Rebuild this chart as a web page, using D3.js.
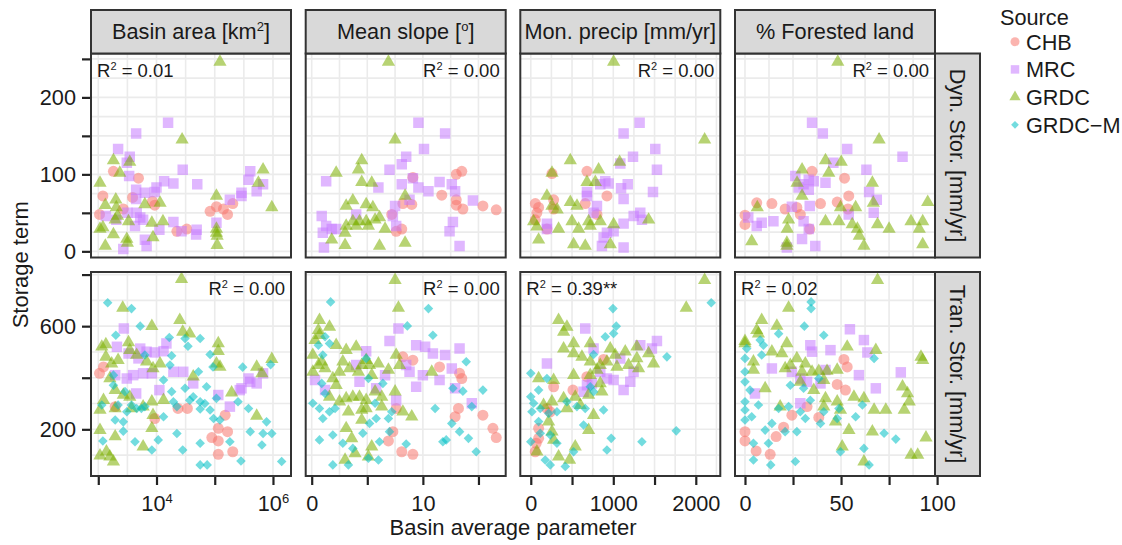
<!DOCTYPE html>
<html><head><meta charset="utf-8">
<script src="https://cdn.jsdelivr.net/npm/d3@7"></script>
<style>body{margin:0;background:#fff}svg{display:block;font-family:"Liberation Sans",Arial,Helvetica,sans-serif}</style>
</head><body><svg id="c" width="1122" height="545"></svg>
<script>
// ---------------- data ----------------
const sources = ["CHB", "MRC", "GRDC", "GRDC\u2212M"];
const sourceColors = ["#F8766D", "#C77CFF", "#7CAE00", "#00BFC4"];
const parameters = ["Basin area [km2]", "Mean slope [o]", "Mon. precip [mm/yr]", "% Forested land"];
const storageTerms = ["Dyn. Stor. [mm/yr]", "Tran. Stor. [mm/yr]"];
const r2Values = [["0.01", "0.00", "0.00", "0.00"], ["0.00", "0.00", "0.39**", "0.02"]];

// x tick values per parameter and which get labels
const xTickValues = [[1e3, 1e4, 1e5, 1e6], [0, 5, 10, 15], [0, 500, 1000, 1500, 2000], [0, 25, 50, 75, 100]];
const xTickLabels = [["", "10|4", "", "10|6"], ["0", "", "10", ""], ["0", "", "1000", "", "2000"], ["0", "", "50", "", "100"]];
const yTickValues = [[0, 50, 100, 150, 200, 250], [200, 400, 600, 800]];
const yTickLabels = [["0", "", "100", "", "200", ""], ["200", "", "600", ""]];

// ---- Dynamic storage (top row) : [parameter value, storage mm/yr]
const dynAreaCHB = [[1820,104],[4900,95],[1200,72],[3890,70],[8510,65],[9330,60],[2690,55],[1050,48],[22400,26],[33100,29],[83200,52],[107000,58],[141000,55],[204000,62],[166000,48]];
const dynAreaMRC = [[15800,167],[4470,153],[2190,133],[3470,123],[3090,115],[28200,106],[3390,98],[13500,91],[19500,88],[50100,87],[10000,83],[4470,80],[6310,76],[9330,77],[4470,68],[407000,104],[380000,93],[676000,87],[525000,78],[288000,76],[288000,72],[182000,67],[4570,50],[5250,44],[5890,41],[3160,50],[1350,46],[2040,41],[4270,33],[11200,28],[19500,38],[26900,26],[49000,28],[47900,22],[107000,37],[6310,15],[6760,7],[2690,3]];
const dynAreaGRDC = [[123000,246],[27500,145],[1820,118],[3470,116],[2340,102],[1070,89],[676000,106],[562000,89],[955000,57],[107000,72],[2000,67],[1320,60],[2040,57],[6310,61],[11500,63],[1950,41],[3310,39],[8320,37],[12900,39],[1070,29],[1200,31],[1820,22],[3090,16],[3160,11],[8710,18],[1320,7],[107000,29],[107000,24],[110000,20],[110000,8],[2140,46]];

const dynSlopeCHB = [[13.5,104],[13.0,100],[9.1,96],[11.7,73],[13.0,67],[13.0,60],[13.6,55],[15.4,59],[16.6,54],[8.2,62],[9.0,61],[7.2,48],[8.1,29],[7.6,26]];
const dynSlopeMRC = [[9.6,167],[12.0,153],[10.1,133],[8.5,123],[8.1,113],[7.0,106],[9.1,95],[8.1,87],[11.5,90],[12.6,87],[12.9,78],[10.5,78],[9.6,83],[14.5,66],[6.0,83],[1.3,91],[7.5,59],[8.8,67],[0.9,46],[1.3,33],[1.8,29],[1.0,24],[2.2,29],[7.6,33],[7.3,46],[12.7,38],[12.4,26],[13.3,7],[1.1,5],[4.0,48]];
const dynSlopeGRDC = [[6.9,246],[7.5,145],[4.5,118],[4.2,106],[2.2,102],[4.5,90],[5.4,89],[8.4,72],[3.7,66],[3.1,59],[4.9,61],[5.5,57],[3.7,39],[4.3,39],[4.9,39],[5.7,41],[6.1,44],[3.1,33],[3.0,24],[6.6,29],[1.8,15],[3.0,8],[6.1,7],[8.4,11],[4.0,33],[5.1,33]];

const dynPrecipCHB = [[257,101],[681,104],[55,62],[95,57],[74,50],[277,67],[923,72],[802,48],[660,62],[277,55],[196,29],[55,41]];
const dynPrecipMRC = [[1319,167],[1125,153],[1509,133],[1239,123],[1085,114],[1529,106],[1175,87],[1094,82],[903,91],[842,87],[943,88],[681,77],[681,72],[1481,77],[1125,68],[802,59],[761,50],[1327,50],[1247,46],[1347,41],[1125,36],[1004,26],[883,18],[862,7],[1125,5],[196,29],[196,36],[923,24]];
const dynPrecipGRDC = [[1004,246],[2107,145],[479,118],[1077,116],[822,106],[257,102],[681,90],[782,90],[196,72],[257,59],[479,64],[560,59],[320,54],[34,39],[499,39],[701,39],[721,33],[842,39],[1004,35],[1428,41],[95,15],[519,9],[660,7],[964,9],[580,29],[337,29],[74,32]];

const dynForestCHB = [[34.9,104],[51.8,95],[6.1,63],[14,62],[20.9,55],[28.8,48],[39.3,62],[48,64],[54,72],[53.6,55],[0,47],[0,35],[33.7,29],[27,57]];
const dynForestMRC = [[34.9,167],[40.5,153],[53.2,133],[82,123],[46,115],[63.2,106],[26.2,98],[33.2,93],[35.8,91],[30.5,87],[41.9,89],[33.2,80],[64.6,77],[68.6,67],[28,83],[24.4,58],[33.7,59],[67,50],[54,48],[14.8,39],[6.1,33],[8.7,37],[1.7,44],[33.2,29],[30.5,39],[29.7,16],[36.6,7],[21.8,5]];
const dynForestGRDC = [[48.3,246],[69.8,145],[41.9,118],[50.1,116],[29.7,106],[43.6,102],[66.3,89],[27.1,89],[29.7,72],[95.1,64],[66.8,63],[6.4,57],[49.7,57],[57.6,57],[22.7,41],[41.9,39],[48.9,39],[86.4,39],[92.5,39],[55.8,35],[69,35],[75,29],[90.7,29],[22,29],[58.5,29],[59.5,20],[3.5,13],[21.8,7],[21.8,11],[61.9,7],[92.5,9]];

// ---- Transient storage (bottom row)
const tranAreaCHB = [[1050,417],[1230,442],[9330,242],[33900,281],[23400,281],[115000,204],[89100,168],[115000,155],[166000,191],[115000,103],[204000,113],[151000,255],[1950,288]];
const tranAreaMRC = [[2750,591],[2090,520],[3310,494],[5250,513],[6760,501],[9330,498],[13200,503],[14800,533],[4900,475],[5890,417],[3980,410],[8320,417],[19500,423],[28800,423],[42700,378],[11200,352],[4470,339],[3090,397],[115000,333],[182000,288],[288000,359],[407000,384],[380000,397],[525000,378],[676000,417],[269000,352],[1950,410]];
const tranAreaGRDC = [[26900,782],[2630,671],[8320,600],[25100,623],[28200,578],[37200,571],[115000,533],[115000,503],[107000,455],[123000,442],[955000,472],[525000,442],[646000,417],[195000,342],[525000,252],[1150,520],[1350,481],[1700,455],[2190,468],[3310,537],[3470,507],[4570,488],[6760,462],[8710,436],[11500,455],[1580,397],[1950,352],[1230,313],[1070,275],[1950,281],[2690,333],[3470,326],[3720,281],[5890,288],[8320,307],[13200,313],[8710,255],[8320,204],[1070,197],[1950,172],[5890,133],[1070,98],[1380,113],[1820,75],[1580,94],[1350,529],[42700,404]];
const tranAreaGRDCM = [[1450,691],[3720,668],[2000,565],[5250,600],[16600,556],[30900,552],[56200,552],[34700,522],[6310,488],[18200,485],[17000,449],[83200,490],[93300,442],[302000,441],[912000,451],[52500,423],[13200,391],[18200,346],[30900,359],[42700,326],[72400,365],[56200,307],[67600,300],[37200,313],[1820,410],[2880,346],[2190,294],[3090,268],[3720,294],[4570,281],[5500,281],[6310,288],[13200,249],[19500,307],[22400,288],[56200,279],[83200,275],[107000,320],[123000,236],[95500,242],[251000,307],[380000,281],[776000,229],[407000,191],[676000,184],[955000,184],[646000,139],[1410000,75],[282000,77],[56200,62],[74100,62],[28200,120],[22400,184],[56200,146],[182000,152],[8320,120],[10700,159],[4270,152],[2690,193],[1950,236],[2690,229],[1200,155],[1150,294],[1820,371]];

const tranSlopeCHB = [[9.1,468],[11.5,442],[13.3,417],[13.5,397],[8.2,481],[13.2,281],[12.9,249],[15.4,255],[16.3,204],[16.6,168],[7.6,281],[7.3,191],[6.9,155],[8.1,113],[9.1,103]];
const tranSlopeMRC = [[7.8,591],[7.0,542],[9.4,526],[10.2,520],[10.9,494],[12.0,488],[13.3,513],[4.9,503],[4.0,449],[8.5,449],[8.8,423],[10.0,410],[11.5,391],[9.4,365],[12.6,436],[12.9,359],[14.4,301],[0.3,391],[1.2,352],[4.3,384],[5.8,359],[6.6,410],[7.6,313]];
const tranSlopeGRDC = [[7.5,778],[7.8,671],[0.7,623],[0.6,584],[1.6,597],[0.3,546],[0.7,565],[2.2,526],[3.1,507],[4.0,520],[4.9,468],[6.0,455],[6.9,430],[7.6,488],[7.9,449],[10.8,423],[0.1,488],[0.9,462],[1.2,436],[1.9,397],[2.5,423],[2.8,462],[3.4,436],[4.2,423],[4.5,449],[5.2,449],[5.4,410],[5.7,346],[6.3,326],[4.9,313],[4.3,326],[3.7,326],[3.1,320],[2.5,307],[2.2,371],[1.6,326],[3.3,268],[4.5,275],[4.9,281],[6.3,288],[7.5,346],[8.2,268],[9.0,249],[4.5,236],[3.1,204],[3.6,165],[5.4,133],[5.1,94],[3.0,81],[3.9,107],[0.6,449],[0.1,423]];
const tranSlopeGRDCM = [[1.7,694],[10.5,668],[8.6,601],[10.9,565],[1.2,559],[1.6,533],[0.6,526],[1.0,488],[13.9,462],[4.9,475],[5.1,397],[0.9,378],[1.2,339],[0.1,301],[0.7,281],[1.0,242],[1.6,268],[2.1,281],[5.7,301],[6.4,378],[5.8,242],[6.9,242],[7.2,268],[5.2,223],[7.0,191],[4.6,185],[6.1,152],[2.8,146],[1.9,178],[0.7,159],[3.7,126],[6.0,81],[5.1,88],[3.3,62],[1.9,62],[8.5,143],[11.1,281],[12.7,359],[13.6,348],[14.4,288],[15.4,352],[14.8,113],[12.1,159],[11.8,152],[12.6,223],[13.3,191],[14.1,165]];

const tranPrecipCHB = [[882,471],[680,404],[277,365],[511,352],[196,281],[236,268],[95,204],[95,165],[54,113],[66,146]];
const tranPrecipMRC = [[660,591],[196,455],[761,513],[1084,475],[1327,526],[1529,542],[1468,513],[842,423],[923,397],[1125,352],[1004,391],[1246,423],[1206,384],[681,371],[640,346],[741,378]];
const tranPrecipGRDC = [[2107,778],[1884,671],[337,623],[438,597],[398,578],[519,533],[721,533],[398,513],[519,494],[620,481],[721,462],[842,449],[963,513],[1024,488],[1145,501],[1286,520],[1286,475],[1428,494],[1488,455],[1307,436],[1185,449],[1044,442],[923,462],[95,397],[277,391],[519,410],[721,410],[802,430],[862,346],[701,333],[539,326],[398,320],[257,307],[155,294],[438,281],[600,294],[761,255],[701,197],[257,191],[277,159],[74,113],[337,94],[470,81],[539,133],[216,230],[842,378]];
const tranPrecipGRDCM = [[2187,691],[996,668],[1036,600],[903,559],[1004,572],[761,490],[1650,481],[0,417],[196,397],[95,352],[34,301],[14,268],[115,281],[216,262],[317,268],[438,307],[559,288],[660,281],[721,365],[761,346],[882,275],[640,217],[0,152],[115,185],[236,178],[317,146],[175,81],[236,62],[418,56],[519,113],[923,120],[975,165],[1347,152],[1763,194],[95,230],[0,326]];

const tranForestCHB = [[51.5,471],[53.2,442],[48.0,374],[52.3,352],[32.3,288],[24.4,255],[38.4,246],[20.1,208],[16.2,172],[0,191],[0,155],[5.8,116],[13.1,103]];
const tranForestMRC = [[54.6,588],[61.9,546],[34.0,526],[34.9,501],[44.5,507],[63.7,498],[14.0,436],[24.4,423],[41.9,430],[28.8,397],[32.3,384],[39.3,378],[59.3,410],[68.1,359],[81.1,421],[5.2,339],[28.8,301]];
const tranForestGRDC = [[69.0,778],[22.7,671],[8.7,623],[16.6,601],[6.1,584],[7.0,571],[21.8,533],[0,542],[14.0,501],[19.2,494],[27.0,475],[31.4,455],[23.6,449],[20.9,436],[29.7,423],[34.9,423],[38.4,426],[42.7,426],[48.0,430],[53.2,520],[68.1,507],[91.6,481],[92.5,468],[82.0,365],[84.6,339],[85.5,307],[82.9,275],[73.3,275],[67.2,275],[61.9,320],[56.7,326],[41.9,320],[41.0,288],[48.0,307],[49.7,275],[47.1,230],[54.1,197],[66.3,191],[50.6,133],[61.9,75],[86.4,101],[89.9,101],[94.2,168],[4.4,430],[10.5,359],[18.3,288],[28.8,384],[35.8,352],[41.0,391],[0,533],[4.4,462]];
const tranForestGRDCM = [[34.4,694],[34.4,668],[30.9,600],[41.0,565],[17.5,571],[7.9,546],[9.6,526],[8.7,488],[0.9,513],[0,475],[0,423],[0,384],[2.6,352],[0,307],[0,275],[7.0,294],[0,236],[3.5,249],[23.6,371],[30.5,359],[38.4,397],[17.5,281],[22.7,288],[28.8,268],[34.0,313],[41.0,268],[48.9,281],[61.1,294],[67.2,475],[31.4,242],[39.3,223],[48.0,242],[57.6,249],[14.0,223],[10.5,197],[20.9,191],[27.0,191],[4.4,146],[12.2,146],[49.7,113],[61.9,126],[64.6,62],[72.4,185],[78.5,162],[4.4,81],[13.4,62],[26.2,75]];

// table built from the arrays: [row][col][source]
const panelSeries = [
  [[dynAreaCHB, dynAreaMRC, dynAreaGRDC, []], [dynSlopeCHB, dynSlopeMRC, dynSlopeGRDC, []],
   [dynPrecipCHB, dynPrecipMRC, dynPrecipGRDC, []], [dynForestCHB, dynForestMRC, dynForestGRDC, []]],
  [[tranAreaCHB, tranAreaMRC, tranAreaGRDC, tranAreaGRDCM], [tranSlopeCHB, tranSlopeMRC, tranSlopeGRDC, tranSlopeGRDCM],
   [tranPrecipCHB, tranPrecipMRC, tranPrecipGRDC, tranPrecipGRDCM], [tranForestCHB, tranForestMRC, tranForestGRDC, tranForestGRDCM]]
];

// ---------------- layout ----------------
const svg = d3.select("#c");
const colLeft = [91, 305.7, 520.3, 735], colW = 200;
const rowTop = [53.5, 272], rowH = 204;
const FS = 21.7;
const xDomains = [[750, 2.04e6], [-0.54, 17.45], [-127, 2297], [-5.2, 98.9]];
const xScales = xDomains.map((d, i) => (i === 0 ? d3.scaleLog() : d3.scaleLinear()).domain(d).range([colLeft[i], colLeft[i] + colW]));
const yScales = [
  d3.scaleLinear().domain([-8, 257]).range([rowTop[0] + rowH, rowTop[0]]),
  d3.scaleLinear().domain([19, 810]).range([rowTop[1] + rowH, rowTop[1]])
];
const xGrids = [
  d3.range(3, 6.01, 0.5).map(e => Math.pow(10, e)),
  d3.range(0, 17.5, 2.5), d3.range(0, 2300, 250), d3.range(0, 98, 12.5)
];
const yGrids = [d3.range(0, 251, 25), d3.range(100, 801, 100)];

const shapeFns = [
  d3.symbol(d3.symbolCircle, 95),
  d3.symbol(d3.symbolSquare, 110),
  d3.symbol(d3.symbolTriangle, 76),
  d3.symbol(d3.symbolSquare, 46)
];
const shapeRot = [0, 0, 0, 45];
const ALPHA = 0.55;
const textCol = "#1a1a1a";

const defs = svg.append("defs");

for (let r = 0; r < 2; r++) {
  for (let c = 0; c < 4; c++) {
    const x = xScales[c], y = yScales[r];
    const g = svg.append("g");
    const id = `clip${r}${c}`;
    defs.append("clipPath").attr("id", id).append("rect")
      .attr("x", colLeft[c]).attr("y", rowTop[r]).attr("width", colW).attr("height", rowH);
    g.append("rect").attr("x", colLeft[c]).attr("y", rowTop[r]).attr("width", colW).attr("height", rowH).attr("fill", "#fff");
    const grid = g.append("g").attr("stroke", "#ebebeb").attr("stroke-width", 1.6);
    xGrids[c].forEach(v => grid.append("line").attr("x1", x(v)).attr("x2", x(v)).attr("y1", rowTop[r]).attr("y2", rowTop[r] + rowH));
    yGrids[r].forEach(v => grid.append("line").attr("y1", y(v)).attr("y2", y(v)).attr("x1", colLeft[c]).attr("x2", colLeft[c] + colW));
    const pts = g.append("g").attr("clip-path", `url(#${id})`);
    panelSeries[r][c].forEach((series, s) => {
      pts.selectAll(null).data(series).join("path")
        .attr("d", shapeFns[s])
        .attr("transform", d => `translate(${x(d[0])},${y(d[1])}) rotate(${shapeRot[s]})`)
        .attr("fill", sourceColors[s]).attr("fill-opacity", ALPHA);
    });
    g.append("rect").attr("x", colLeft[c]).attr("y", rowTop[r]).attr("width", colW).attr("height", rowH)
      .attr("fill", "none").attr("stroke", "#333").attr("stroke-width", 2);
    // R2 label
    const leftSide = (r === 0 && c === 0) || (r === 1 && c >= 2);
    const t = g.append("text").attr("font-size", 18.5).attr("fill", textCol)
      .attr("x", leftSide ? colLeft[c] + 6 : colLeft[c] + colW - 6)
      .attr("y", rowTop[r] + 23)
      .attr("text-anchor", leftSide ? "start" : "end");
    t.append("tspan").text("R");
    t.append("tspan").attr("font-size", 11).attr("dy", -7).text("2");
    t.append("tspan").attr("dy", 7).text(" = " + r2Values[r][c]);
  }
}

// top strips
parameters.forEach((p, c) => {
  svg.append("rect").attr("x", colLeft[c]).attr("y", 10).attr("width", colW).attr("height", rowTop[0] - 10)
    .attr("fill", "#d9d9d9").attr("stroke", "#333").attr("stroke-width", 2);
  const t = svg.append("text").attr("x", colLeft[c] + colW / 2).attr("y", 38.5)
    .attr("text-anchor", "middle").attr("font-size", FS).attr("fill", textCol);
  if (c === 0) {
    t.append("tspan").text("Basin area [km");
    t.append("tspan").attr("font-size", 13).attr("dy", -8).text("2");
    t.append("tspan").attr("dy", 8).text("]");
  } else if (c === 1) {
    t.append("tspan").text("Mean slope [");
    t.append("tspan").attr("font-size", 13).attr("dy", -8).text("o");
    t.append("tspan").attr("dy", 8).text("]");
  } else t.text(p);
});
// right strips
storageTerms.forEach((s, r) => {
  const x0 = colLeft[3] + colW;
  svg.append("rect").attr("x", x0).attr("y", rowTop[r]).attr("width", 45).attr("height", rowH)
    .attr("fill", "#d9d9d9").attr("stroke", "#333").attr("stroke-width", 2);
  svg.append("text").attr("transform", `translate(${x0 + 22.5},${rowTop[r] + rowH / 2}) rotate(90)`)
    .attr("text-anchor", "middle").attr("dy", "0.36em").attr("font-size", FS).attr("fill", textCol).text(s);
});

// x axes (bottom row)
xScales.forEach((sc, c) => {
  const ax = svg.append("g").attr("transform", `translate(0,${rowTop[1] + rowH + 1})`)
    .call(d3.axisBottom(sc).tickValues(xTickValues[c]).tickSize(8).tickPadding(10.5).tickFormat(() => ""));
  ax.select(".domain").remove();
  ax.selectAll(".tick line").attr("stroke", "#222").attr("stroke-width", 2.2);
  ax.selectAll(".tick text").each(function (d, i) {
    const lab = xTickLabels[c][i];
    const t = d3.select(this).attr("font-size", FS).attr("fill", textCol).attr("font-family", null);
    if (lab.includes("|")) {
      const [b, e] = lab.split("|");
      t.append("tspan").text(b);
      t.append("tspan").attr("font-size", 13).attr("dy", -8).text(e);
    } else t.text(lab);
  });
});
// y axes (left column)
yScales.forEach((sc, r) => {
  const ax = svg.append("g").attr("transform", `translate(${colLeft[0] - 1},0)`)
    .call(d3.axisLeft(sc).tickValues(yTickValues[r]).tickSize(8).tickPadding(6).tickFormat((d, i) => yTickLabels[r][i]));
  ax.select(".domain").remove();
  ax.selectAll(".tick line").attr("stroke", "#222").attr("stroke-width", 2.2);
  ax.selectAll(".tick text").attr("font-size", FS).attr("fill", textCol).attr("font-family", null);
});

// axis titles
svg.append("text").attr("x", (colLeft[0] + colLeft[3] + colW) / 2).attr("y", 535)
  .attr("text-anchor", "middle").attr("font-size", 22).attr("fill", textCol).text("Basin average parameter");
svg.append("text").attr("transform", `translate(28,${(rowTop[0] + rowTop[1] + rowH) / 2}) rotate(-90)`)
  .attr("text-anchor", "middle").attr("font-size", 22).attr("fill", textCol).text("Storage term");

// legend
svg.append("text").attr("x", 1000).attr("y", 25).attr("font-size", FS).attr("fill", textCol).text("Source");
const legendShapes = [
  d3.symbol(d3.symbolCircle, 64), d3.symbol(d3.symbolSquare, 72),
  d3.symbol(d3.symbolTriangle, 55), d3.symbol(d3.symbolSquare, 30)
];
sources.forEach((s, i) => {
  const yy = 41.7 + i * 27.7;
  svg.append("path").attr("d", legendShapes[i]).attr("transform", `translate(1015,${yy}) rotate(${shapeRot[i]})`)
    .attr("fill", sourceColors[i]).attr("fill-opacity", ALPHA);
  svg.append("text").attr("x", 1026).attr("y", yy).attr("dy", "0.36em").attr("font-size", FS).attr("fill", textCol).text(s);
});
</script></body></html>
